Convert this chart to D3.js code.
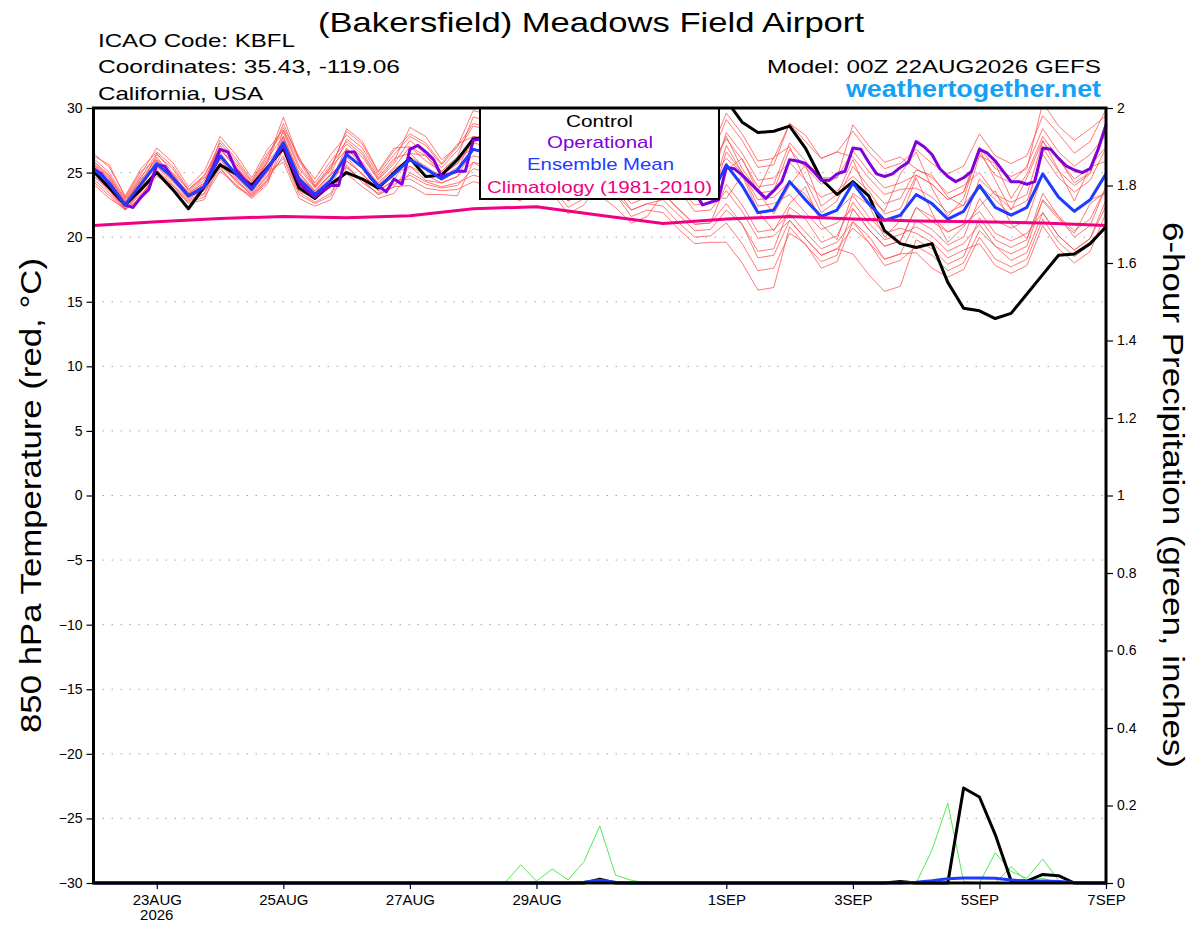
<!DOCTYPE html>
<html>
<head>
<meta charset="utf-8">
<script src="https://cdn.jsdelivr.net/npm/d3@7"></script>
<style>
body { margin: 0; background: #fff; }
svg text { font-family: "Liberation Sans", Arial, Helvetica, sans-serif; }
</style>
</head>
<body>
<svg id="chart" width="1200" height="927" viewBox="0 0 1200 927"></svg>
<script>
// 6-hourly steps from 22AUG2026 00Z to 7SEP2026 00Z (65 values), operational is 3-hourly (129 values)

const tempTicks = [-30, -25, -20, -15, -10, -5, 0, 5, 10, 15, 20, 25, 30];
const precipTicks = [0, 0.2, 0.4, 0.6, 0.8, 1, 1.2, 1.4, 1.6, 1.8, 2];
const precipTickLabels = ["0", "0.2", "0.4", "0.6", "0.8", "1", "1.2", "1.4", "1.6", "1.8", "2"];
const xTickDates = ["2026-08-23", "2026-08-25", "2026-08-27", "2026-08-29", "2026-09-01", "2026-09-03", "2026-09-05", "2026-09-07"];
const xTickLabels = ["23AUG", "25AUG", "27AUG", "29AUG", "1SEP", "3SEP", "5SEP", "7SEP"];

const control = [25.1,23.8,22.5,23.7,25.0,23.7,22.2,23.9,25.6,24.9,24.0,25.4,26.9,23.8,23.0,24.1,25.0,24.5,23.8,25.0,
    26.1,24.7,24.8,26.0,27.6,27.8,26.0,26.8,28.4,27.6,26.2,27.0,28.6,28.0,26.8,27.8,29.2,28.4,27.6,29.4,
    30.6,28.9,28.1,28.2,28.6,26.9,24.5,23.3,24.3,23.2,20.5,19.5,19.2,19.5,16.5,14.5,14.3,13.7,14.1,15.6,
    17.1,18.6,18.7,19.5,20.8];

const operational = [25.3,24.9,24.1,23.3,22.5,22.3,23.1,23.7,25.6,25.5,24.6,23.9,23.2,23.5,23.9,25.3,26.8,26.6,25.2,24.5,
    23.8,24.6,25.3,26.2,27.1,25.6,24.2,23.6,23.1,23.6,24.0,24.0,26.6,26.6,25.5,24.6,24.0,23.5,24.5,24.1,
    26.8,27.1,26.6,26.0,24.7,24.9,25.1,25.1,27.5,27.6,27.0,26.2,25.4,25.0,24.8,25.3,26.4,27.3,27.0,26.1,
    25.2,24.6,24.3,25.0,26.3,27.0,26.5,25.6,24.9,24.3,24.1,24.8,26.0,26.4,25.5,24.4,23.5,22.5,22.7,22.9,
    25.4,25.3,24.8,24.2,23.6,23.0,23.6,24.3,26.0,25.9,25.7,25.1,24.4,24.4,24.9,25.1,26.9,26.8,25.8,24.9,
    24.7,24.9,25.4,25.8,27.4,27.0,26.4,25.3,24.7,24.3,24.6,25.1,26.8,26.5,25.9,25.1,24.3,24.3,24.1,24.3,
    26.9,26.8,26.1,25.5,25.2,25.0,25.3,26.8,28.7];

const ensMean = [25.3,24.2,22.5,24.1,25.7,24.6,23.2,23.9,26.3,24.9,23.7,25.3,27.3,24.5,23.3,24.4,26.4,25.4,23.9,24.9,
    26.0,25.3,24.5,25.2,26.8,26.5,24.8,25.3,26.3,25.4,24.3,25.0,26.2,25.3,24.1,24.6,25.4,24.2,23.0,23.1,
    25.6,24.0,21.9,22.1,24.3,22.9,21.6,22.1,24.2,22.6,21.3,21.7,23.3,22.6,21.4,22.0,24.0,22.3,21.7,22.3,
    24.9,23.1,22.0,22.9,24.9];

// daily climatology (1981-2010), 22AUG .. 7SEP
const climatology = [20.9,21.2,21.45,21.6,21.5,21.65,22.2,22.35,21.7,21.05,21.4,21.6,21.4,21.25,21.2,21.1,20.9];

const mem01 = [25.8,24.7,22.8,24.6,26.5,25.0,23.7,24.7,27.3,25.9,24.3,26.3,28.5,26.2,24.0,25.6,27.2,26.2,24.4,25.7,
    27.5,26.4,25.4,26.7,28.6,28.3,25.9,27.1,28.3,27.8,26.3,27.0,28.7,27.8,26.6,27.1,28.4,26.8,26.0,26.1,
    29.1,27.5,25.4,25.6,28.8,27.9,26.1,26.6,28.2,26.6,25.3,25.7,26.8,25.7,24.9,25.5,28.0,26.3,25.7,26.3,
    29.4,28.0,26.5,27.4,29.9];
const mem02 = [24.8,23.7,22.2,23.6,25.4,24.3,23.0,23.6,25.5,24.5,23.2,24.5,26.3,23.5,22.7,23.4,25.6,24.2,23.4,24.1,
    24.8,24.1,23.8,24.0,25.3,25.0,23.9,23.8,25.3,24.4,23.3,24.0,24.2,23.8,22.1,22.6,22.9,21.7,20.5,20.6,
    22.1,21.0,18.4,18.6,21.3,19.9,18.6,19.1,20.7,19.6,17.8,18.2,19.3,18.6,17.4,18.0,20.5,19.3,18.2,18.8,
    21.9,20.1,19.0,19.9,22.4];
const mem03 = [26.3,25.6,23.1,25.1,26.0,24.9,23.4,24.2,26.8,25.4,24.0,25.8,28.8,26.0,24.2,25.9,27.4,26.4,24.5,25.9,
    28.5,27.8,26.0,27.0,28.8,28.5,26.0,27.3,27.8,26.9,25.8,26.5,27.2,26.3,25.1,26.2,27.9,26.7,25.5,25.6,
    27.6,26.0,23.9,24.1,27.3,25.9,24.6,24.6,26.7,25.1,23.8,24.2,24.8,24.1,22.9,23.5,26.5,24.8,24.2,25.5,
    28.4,26.6,25.5,26.4,27.9];
const mem04 = [24.3,23.2,22.1,23.1,25.2,24.1,22.9,23.4,25.3,23.9,23.1,24.3,26.8,23.6,23.0,23.9,24.9,23.9,23.0,23.4,
    25.0,24.3,23.9,24.2,24.8,24.5,23.6,23.3,23.8,23.4,21.8,22.5,24.2,23.3,22.1,22.6,22.4,21.1,20.0,20.1,
    21.1,19.5,17.4,17.6,20.3,19.5,17.6,18.1,21.2,19.6,18.3,18.7,18.8,17.6,16.9,17.5,20.0,18.3,17.7,18.3,
    21.4,19.6,18.5,19.4,20.9];
const mem05 = [25.5,24.4,22.6,24.3,26.2,24.7,23.5,24.4,27.1,25.7,24.2,26.1,27.8,25.0,23.6,24.9,27.6,26.6,24.6,26.1,
    26.5,26.3,24.8,25.7,27.8,27.5,25.4,26.3,28.3,27.4,26.3,27.0,27.7,26.8,25.6,26.1,25.9,25.2,23.5,23.6,
    25.2,26.1,23.5,21.8,24.0,25.6,22.4,23.3,26.0,23.1,22.0,24.9,26.6,23.8,21.6,23.0,26.8,24.4,22.1,24.6,
    27.5,25.2,22.8,25.5,27.0];
const mem06 = [25.0,23.9,22.3,23.8,25.7,24.6,23.2,23.9,26.6,24.8,23.9,25.6,26.8,24.0,23.0,23.9,26.4,25.4,23.9,24.9,
    25.5,24.8,24.2,24.7,25.8,25.0,24.2,24.3,26.3,25.4,24.3,25.0,27.2,26.3,25.1,25.6,26.9,25.7,24.5,24.6,
    26.1,25.0,22.4,22.6,23.3,21.9,20.6,21.1,22.2,20.6,19.3,19.7,22.3,21.6,20.4,21.0,24.5,23.3,22.2,22.8,
    26.4,24.6,23.5,24.4,26.9];
const mem07 = [26.1,25.0,23.0,24.9,26.9,25.8,23.9,25.1,27.8,26.4,24.6,26.8,28.3,25.9,23.9,25.4,28.2,27.2,25.0,26.7,
    28.0,27.3,25.7,27.2,27.8,27.5,25.4,26.3,26.3,25.8,24.3,25.0,25.2,24.3,23.1,23.6,23.4,22.2,21.0,21.1,
    22.6,21.0,18.9,19.1,22.3,21.4,19.6,20.1,22.7,21.1,19.8,20.2,20.8,20.1,18.9,19.5,21.0,19.3,18.7,19.3,
    22.9,21.6,20.0,20.9,23.9];
const mem08 = [24.5,23.4,22.2,23.3,24.7,24.0,22.6,22.9,25.8,24.4,23.4,24.8,26.1,23.3,22.6,23.2,25.9,24.9,23.6,24.4,
    26.5,25.3,24.8,25.7,27.3,27.0,25.1,25.8,27.3,26.4,25.3,26.0,26.2,25.3,24.1,24.6,24.4,23.7,22.0,22.1,
    23.6,22.0,19.9,20.1,21.3,19.9,18.6,19.1,18.7,17.1,15.8,16.2,19.8,19.1,17.9,18.5,21.5,19.8,19.2,19.8,
    23.4,21.6,20.5,21.4,23.9];
const mem09 = [25.6,24.5,22.7,24.4,25.5,24.4,23.1,23.7,26.8,25.4,24.0,25.8,27.3,24.5,23.3,24.4,26.9,25.5,24.2,25.4,
    27.0,26.3,25.1,26.2,29.3,29.0,26.3,27.8,29.3,28.4,27.3,28.0,28.2,27.8,26.1,26.6,26.4,25.2,24.0,24.1,
    28.1,26.5,24.4,24.6,25.8,24.4,23.1,23.6,24.7,23.6,21.8,22.2,24.8,24.1,22.9,23.5,27.0,25.3,24.7,25.3,
    30.4,28.6,27.5,28.4,29.4];
const mem10 = [25.1,24.0,22.4,23.9,26.0,24.9,23.4,24.2,26.0,24.6,23.5,25.0,27.8,24.6,23.6,24.9,25.9,24.9,23.6,24.4,
    24.5,23.8,23.6,23.7,24.3,24.0,23.3,22.8,24.8,24.3,22.8,23.5,25.2,24.3,23.1,23.6,25.4,24.2,23.0,23.1,
    23.0,24.8,22.0,20.5,22.6,23.9,21.0,19.8,23.4,22.5,20.0,21.3,24.6,21.9,19.6,20.8,22.4,23.6,21.0,19.9,
    22.8,21.4,20.3,22.6,23.5];
const mem11 = [25.9,24.8,22.9,24.7,25.9,24.8,23.3,24.1,27.5,26.1,24.4,26.5,28.1,25.3,23.8,25.2,28.4,27.4,25.1,26.9,
    27.0,25.9,25.1,26.2,26.8,26.5,24.8,25.3,25.8,24.9,23.8,24.5,26.7,25.8,24.6,25.1,27.4,26.2,25.0,25.1,
    27.8,25.3,23.6,26.2,27.0,24.4,21.9,22.8,25.5,23.9,22.6,23.0,25.2,24.8,23.1,22.4,26.3,25.7,23.0,24.9,
    27.8,26.1,24.2,25.0,28.3];
const mem12 = [24.7,23.6,22.1,23.5,24.9,23.8,22.7,23.1,25.1,24.1,23.0,24.1,27.5,24.7,23.4,24.6,25.4,24.4,23.3,23.9,
    24.0,23.3,23.3,23.2,25.8,25.5,24.2,24.3,24.3,23.9,22.3,23.0,23.2,22.3,21.1,21.6,23.4,22.1,21.0,21.1,
    24.1,22.5,20.4,20.6,21.8,20.4,19.1,19.6,21.2,20.1,18.3,18.7,21.3,20.6,19.4,20.0,23.0,21.3,20.7,21.3,
    24.9,23.1,22.0,22.9,23.4];
const mem13 = [26.5,25.4,23.2,25.3,26.6,25.5,23.7,24.8,26.9,25.5,24.1,25.9,29.3,26.0,24.5,26.4,27.9,26.9,24.8,26.4,
    27.8,27.1,25.6,27.0,29.8,29.5,26.6,28.3,28.8,27.9,26.8,27.5,29.2,28.3,27.1,27.6,28.9,28.2,26.5,26.6,
    29.6,28.0,25.9,26.1,28.8,27.4,26.1,26.6,26.2,24.6,23.3,23.7,23.8,23.1,21.9,22.5,24.0,22.9,21.7,22.3,
    26.9,25.1,24.0,24.9,28.4];
const mem14 = [24.1,23.0,22.2,22.9,25.1,24.0,22.8,23.3,26.1,24.7,23.6,25.1,25.8,23.0,22.4,22.9,25.4,24.4,23.3,23.9,
    25.5,24.4,24.2,24.7,26.8,26.5,24.8,25.3,25.3,24.4,23.3,24.0,24.7,23.8,22.6,23.1,24.9,23.7,22.5,22.6,
    26.6,25.0,22.9,23.1,24.3,23.3,21.6,22.1,23.2,21.6,20.3,20.7,20.3,19.6,18.4,19.0,19.5,17.8,17.2,17.8,
    20.9,19.1,18.0,18.9,21.9];
const mem15 = [25.7,24.6,22.7,24.5,25.7,24.6,23.2,23.9,25.7,24.3,23.3,24.7,27.7,24.9,23.5,24.8,26.2,24.8,23.8,24.7,
    26.2,25.5,24.6,25.4,26.3,26.0,24.5,24.8,24.8,23.9,22.8,23.5,23.7,23.3,21.6,22.1,21.9,20.6,19.5,19.6,
    19.6,18.0,15.9,16.1,20.8,19.4,18.1,18.6,22.2,20.6,19.3,19.7,22.3,21.2,20.4,21.0,22.0,20.3,19.7,20.3,
    21.9,20.1,19.0,19.9,22.9];
const mem16 = [25.2,24.1,22.4,24.0,26.4,25.3,23.6,24.6,25.4,24.0,23.2,24.4,28.3,25.5,23.9,25.4,26.8,25.8,24.1,25.3,
    26.0,25.3,24.5,25.2,27.8,27.5,25.4,26.3,25.8,25.3,23.8,24.5,25.2,24.3,23.1,23.6,25.4,24.2,23.0,23.1,
    27.1,25.0,23.4,23.6,26.8,25.4,24.1,24.6,28.7,27.1,25.8,26.2,25.3,24.6,23.4,24.0,25.0,23.3,22.7,23.3,
    27.4,26.0,24.5,25.4,25.9];
const members = [mem01, mem02, mem03, mem04, mem05, mem06, mem07, mem08,
    mem09, mem10, mem11, mem12, mem13, mem14, mem15, mem16];

// 6-hour precipitation, inches
const ctrlPrecip = [0,0,0,0,0,0,0,0,0,0, 0,0,0,0,0,0,0,0,0,0, 0,0,0,0,0,0,0,0,0,0,
    0,0,0.010,0,0,0,0,0,0,0, 0,0,0,0,0,0,0,0,0,0,
    0,0.004,0,0,0,0.245,0.222,0.125,0.006,0.005, 0.022,0.019,0,0,0];
const meanPrecip = [0,0,0,0,0,0,0,0,0,0, 0,0,0,0,0,0,0,0,0,0, 0,0,0,0,0,0,0,0,0,0,
    0,0.002,0.007,0.002,0,0,0,0,0,0, 0,0,0,0,0,0,0,0,0,0,
    0,0,0.002,0.006,0.011,0.013,0.013,0.012,0.008,0.004, 0.005,0.004,0.001,0,0];
const precipA = [0,0,0,0,0,0,0,0,0,0, 0,0,0,0,0,0,0,0,0,0, 0,0,0,0,0,0,0,0.047,0.005,0.036,
    0.008,0.055,0.147,0.020,0.007,0,0,0,0,0, 0,0,0,0,0,0,0,0,0,0,
    0,0,0,0,0,0,0,0,0,0, 0,0,0,0,0];
const precipB = [0,0,0,0,0,0,0,0,0,0, 0,0,0,0,0,0,0,0,0,0, 0,0,0,0,0,0,0,0,0,0,
    0,0,0,0,0,0,0,0,0,0, 0,0,0,0,0,0,0,0,0,0,
    0,0,0,0.085,0.206,0.004,0,0,0,0, 0,0,0,0,0];
const precipC = [0,0,0,0,0,0,0,0,0,0, 0,0,0,0,0,0,0,0,0,0, 0,0,0,0,0,0,0,0,0,0,
    0,0,0,0,0,0,0,0,0,0, 0,0,0,0,0,0,0,0,0,0,
    0,0,0,0,0,0,0,0.078,0.030,0.012, 0.062,0.006,0,0,0];
const precipD = [0,0,0,0,0,0,0,0,0,0, 0,0,0,0,0,0,0,0,0,0, 0,0,0,0,0,0,0,0,0,0,
    0,0,0,0,0,0,0,0,0,0, 0,0,0,0,0,0,0,0,0,0,
    0,0,0,0,0,0,0,0,0.042,0.004, 0.012,0,0,0,0];
const precipMembers = [precipA, precipB, precipC, precipD];

const plot = {left: 93.5, right: 1106, top: 108, bottom: 883};
const startTime = Date.UTC(2026, 7, 22, 0);
const endTime = Date.UTC(2026, 8, 7, 0);

const colors = {
    member: "#ff4e4e",
    precip: "#3ee63e",
    control: "#000000",
    operational: "#8200dc",
    mean: "#1e3cff",
    clim: "#f00082",
    site: "#14a0f5"
};

function stepTime(i, hours) {
    return new Date(startTime + i * hours * 3600000);
}

let xScale = d3.scaleUtc()
    .domain([new Date(startTime), new Date(endTime)])
    .range([plot.left, plot.right]);
let tScale = d3.scaleLinear().domain([-30, 30]).range([plot.bottom, plot.top]);
let pScale = d3.scaleLinear().domain([0, 2]).range([plot.bottom, plot.top]);

let chart = d3.select("#chart");

// stretch text to the width it has in the picture, like the plotting fonts do
function addText(x, y, str, size, len, color, weight) {
    return chart.append("text")
        .attr("x", x)
        .attr("y", y)
        .attr("font-size", size)
        .attr("font-weight", weight || "normal")
        .attr("fill", color || "#000")
        .attr("textLength", len)
        .attr("lengthAdjust", "spacingAndGlyphs")
        .text(str);
}

function drawGrid() {
    chart.append("g")
        .selectAll("line")
        .data(tempTicks.filter(d => d > -30 && d < 30))
        .enter().append("line")
        .attr("x1", plot.left)
        .attr("x2", plot.right)
        .attr("y1", d => tScale(d))
        .attr("y2", d => tScale(d))
        .attr("stroke", "#a8a8a8")
        .attr("stroke-width", 1)
        .attr("stroke-dasharray", "1.5,7.5");
}

function drawSeries(values, hours, scale, color, width) {
    let line = d3.line()
        .x((d, i) => xScale(stepTime(i, hours)))
        .y(d => scale(d));
    chart.append("path")
        .attr("d", line(values))
        .attr("fill", "none")
        .attr("stroke", color)
        .attr("stroke-width", width)
        .attr("stroke-linejoin", "round")
        .attr("clip-path", "url(#plotClip)");
}

function drawAxes() {
    let left = chart.append("g")
        .attr("transform", `translate(${plot.left},0)`)
        .call(d3.axisLeft(tScale).tickValues(tempTicks).tickSize(7).tickPadding(4));
    left.selectAll("text").attr("font-size", 14).attr("font-family", "Liberation Sans, Arial, sans-serif");

    let right = chart.append("g")
        .attr("transform", `translate(${plot.right},0)`)
        .call(d3.axisRight(pScale).tickValues(precipTicks)
            .tickFormat((d, i) => precipTickLabels[i]).tickSize(7).tickPadding(4));
    right.selectAll("text").attr("font-size", 14).attr("font-family", "Liberation Sans, Arial, sans-serif");

    let bottom = chart.append("g")
        .attr("transform", `translate(0,${plot.bottom})`)
        .call(d3.axisBottom(xScale)
            .tickValues(xTickDates.map(d => new Date(d + "T00:00:00Z")))
            .tickFormat((d, i) => xTickLabels[i]).tickSize(6).tickPadding(5));
    bottom.selectAll("text").attr("font-size", 15).attr("font-family", "Liberation Sans, Arial, sans-serif");

    [left, right, bottom].forEach(g => {
        g.select(".domain").remove();
        g.selectAll(".tick line").attr("stroke", "#000").attr("stroke-width", 1.2);
        g.selectAll("text").attr("fill", "#000");
    });

    chart.append("text")
        .attr("x", xScale(new Date(xTickDates[0] + "T00:00:00Z")))
        .attr("y", 920)
        .attr("text-anchor", "middle")
        .attr("font-size", 15)
        .text("2026");
}

function drawFrame() {
    chart.append("rect")
        .attr("x", plot.left)
        .attr("y", plot.top)
        .attr("width", plot.right - plot.left)
        .attr("height", plot.bottom - plot.top)
        .attr("fill", "none")
        .attr("stroke", "#000")
        .attr("stroke-width", 3);
}

function drawLegend() {
    chart.append("rect")
        .attr("x", 480)
        .attr("y", 108)
        .attr("width", 239)
        .attr("height", 91)
        .attr("fill", "#fff")
        .attr("stroke", "#000")
        .attr("stroke-width", 2);
    addText(566, 126.5, "Control", 17, 67, colors.control);
    addText(547, 148, "Operational", 17, 106, colors.operational);
    addText(527, 170, "Ensemble Mean", 17, 147, colors.mean);
    addText(487, 192.5, "Climatology (1981-2010)", 17, 225, colors.clim);
}

chart.append("defs").append("clipPath")
    .attr("id", "plotClip")
    .append("rect")
    .attr("x", plot.left)
    .attr("y", plot.top)
    .attr("width", plot.right - plot.left)
    .attr("height", plot.bottom - plot.top + 2);

drawGrid();

members.forEach(m => drawSeries(m, 6, tScale, colors.member, 0.75));
precipMembers.forEach(p => drawSeries(p, 6, pScale, colors.precip, 0.9));

drawSeries(ctrlPrecip, 6, pScale, colors.control, 3);
drawSeries(meanPrecip, 6, pScale, colors.mean, 3);

drawSeries(control, 6, tScale, colors.control, 3);
drawSeries(operational, 3, tScale, colors.operational, 3);
drawSeries(ensMean, 6, tScale, colors.mean, 3);
drawSeries(climatology, 24, tScale, colors.clim, 3);

drawLegend();
drawFrame();
drawAxes();

// titles
addText(318, 31.5, "(Bakersfield) Meadows Field Airport", 28, 546);
addText(98, 46.7, "ICAO Code: KBFL", 19, 197);
addText(98, 73.3, "Coordinates: 35.43, -119.06", 19, 302);
addText(98, 100, "California, USA", 19, 165);
addText(767, 73.3, "Model: 00Z 22AUG2026 GEFS", 19, 334);
addText(846, 97, "weathertogether.net", 23, 255, colors.site, "bold");

// axis titles
chart.append("text")
    .attr("transform", "translate(41,733) rotate(-90)")
    .attr("font-size", 29)
    .attr("textLength", 475)
    .attr("lengthAdjust", "spacingAndGlyphs")
    .text("850 hPa Temperature (red, °C)");

chart.append("text")
    .attr("transform", "translate(1163,222) rotate(90)")
    .attr("font-size", 29)
    .attr("textLength", 546)
    .attr("lengthAdjust", "spacingAndGlyphs")
    .text("6-hour Precipitation (green, inches)");
</script>
</body>
</html>
